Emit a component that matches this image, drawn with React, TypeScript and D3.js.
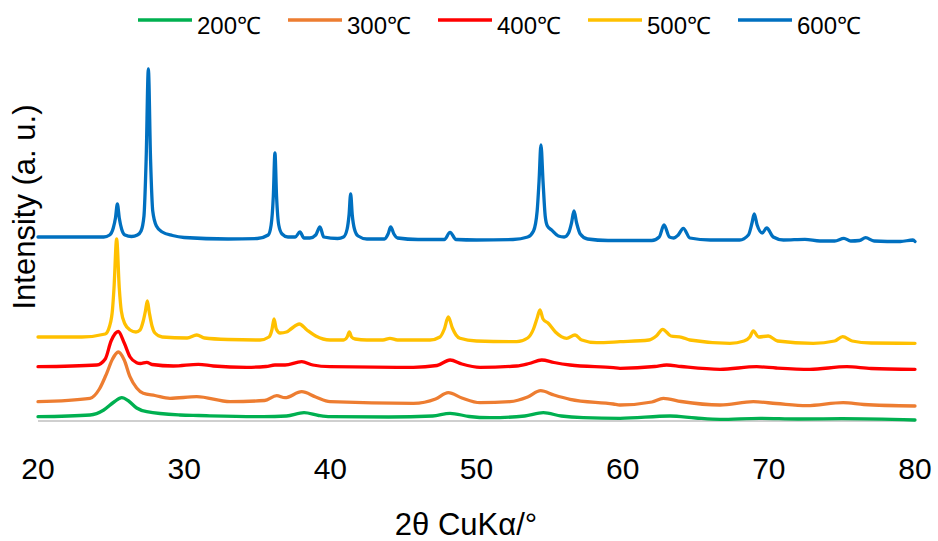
import React from "react";
import * as d3 from "d3";

const W = 938;
const H = 541;

const seriesNames = ["200℃", "300℃", "400℃", "500℃", "600℃"];
const seriesColors = ["#00B050", "#ED7D31", "#FF0000", "#FFC000", "#0070C0"];

const xTicks = [20, 30, 40, 50, 60, 70, 80];

// 2θ (deg), intensity (a.u., stacked offsets as plotted)
const s200: [number, number][] = [
  [20, 4.3], [23.56, 6], [24.5, 11], [25.2, 19], [25.73, 23.3], [26.2, 20], [26.75, 13], [27.44, 9.3],
  [29.71, 6], [31, 5.5], [35.41, 4.3], [37, 5], [38.2, 8.3], [39.2, 5.5], [39.98, 4.3], [44, 4],
  [47, 5], [48.19, 7.7], [49.5, 4.5], [50.92, 3.3], [53.3, 5], [54.57, 8.3], [55.8, 5], [57.31, 3.3],
  [59.82, 2.7], [63.24, 5], [65, 3], [66.66, 1.7], [69.39, 2.7], [72, 2], [75, 2.3], [80, 1],
];

const s300: [number, number][] = [
  [20, 19.3], [23.56, 22.7], [24.2, 32], [24.7, 47.7], [25.1, 62], [25.49, 69], [25.9, 61], [26.29, 44.3],
  [26.75, 33], [27.2, 27.7], [28, 25.5], [29.03, 22.7], [30.86, 24.3], [33.14, 19.3], [35.5, 20.5],
  [36.33, 25.3], [36.9, 23.3], [38.04, 29.3], [39, 24], [39.98, 19.3], [45.68, 17.7], [47.2, 22],
  [48.07, 28.3], [49, 23], [50.24, 18.3], [52.29, 19.3], [53.5, 24], [54.39, 30.3], [55.3, 26],
  [56.4, 21.7], [59.36, 17], [59.82, 16], [62, 19], [62.78, 22.7], [64, 19.5], [66.66, 16], [68.94, 19.3],
  [70.5, 17.5], [72.59, 15.3], [75.09, 18.3], [76.5, 16.5], [80, 15],
];

const s400: [number, number][] = [
  [20, 54.3], [24.02, 56], [24.6, 62], [25.0, 80], [25.49, 89.5], [25.9, 78], [26.3, 64], [26.75, 58.3],
  [27.0, 57.5], [27.44, 58.7], [27.8, 56.5], [29.26, 55], [30.97, 56.7], [32, 55], [34.28, 53.7],
  [35.6, 54.5], [36.21, 56], [36.9, 56], [38.04, 59.3], [38.8, 56], [39.98, 54.3], [45.68, 53.7],
  [47.3, 55.5], [48.19, 61], [49, 57], [50.24, 53.7], [52.75, 55], [53.6, 57.5], [54.46, 61], [55.3, 58.5],
  [56.4, 56], [59.36, 53.3], [59.82, 52.7], [62.2, 54.5], [63.01, 56], [64, 54.5], [66.66, 51.7],
  [69.17, 54.3], [70.5, 53], [72.81, 51.7], [75.33, 54.3], [77, 52.5], [80, 51.7],
];

const s500: [number, number][] = [
  [20, 84], [23, 84], [24.6, 87], [24.9, 95], [25.1, 112], [25.2, 133], [25.38, 182], [25.56, 133],
  [25.7, 110], [25.95, 97], [26.3, 91], [26.7, 89], [26.98, 91], [27.2, 100], [27.35, 110], [27.48, 120],
  [27.62, 108], [27.8, 95], [28.0, 88], [28.5, 84],
  [30.2, 83], [30.86, 86], [31.4, 83], [33, 81.5], [35.19, 81], [35.8, 84], [36.0, 91], [36.15, 102],
  [36.3, 92], [36.56, 88], [37, 89], [37.3, 92], [37.88, 97], [38.4, 91], [39.0, 85], [39.98, 81],
  [40.9, 81], [41.15, 84], [41.3, 89], [41.45, 84], [41.7, 82], [42.5, 81], [43.6, 81], [44.08, 82.7],
  [44.6, 81], [46.82, 81], [47.5, 84], [47.8, 92], [48.07, 104], [48.35, 93], [48.6, 86], [48.87, 82.7],
  [50, 80], [52.75, 79.3], [53.5, 83], [53.9, 92], [54.15, 103], [54.34, 111], [54.55, 102], [54.91, 97.7],
  [55.4, 89], [56.17, 82.7], [56.74, 86], [57.2, 81], [58.22, 78.3],
  [59.82, 79.3], [61.8, 81], [62.3, 85], [62.74, 91.7], [63.3, 85], [64.04, 83.7], [64.6, 81], [67.34, 77.7],
  [68.3, 80], [68.7, 84], [68.94, 90], [69.3, 84], [69.96, 85], [70.6, 80], [73.04, 77.7], [74.5, 80],
  [75.05, 84.3], [75.7, 80], [77, 78], [80, 77.7],
];

const s600: [number, number][] = [
  [20, 184], [24.5, 184], [24.9, 186], [25.15, 193], [25.3, 203], [25.43, 217], [25.56, 203], [25.72, 192],
  [25.95, 186], [26.4, 184.5], [26.8, 186], [27.05, 190], [27.25, 205], [27.4, 262], [27.55, 352],
  [27.7, 262], [27.85, 210], [28.1, 195], [28.5, 189], [29.2, 185.5],
  [30, 183.5], [33, 182], [35, 182.5], [35.75, 186], [35.95, 196], [36.1, 225], [36.21, 268], [36.32, 225],
  [36.47, 196], [36.7, 187], [37.1, 184], [37.6, 184], [37.92, 189], [38.2, 183], [38.6, 183], [39.0, 186],
  [39.29, 194], [39.55, 184],
  [40.5, 182.5], [40.9, 184], [41.15, 192], [41.28, 206], [41.39, 227], [41.5, 206], [41.65, 192],
  [41.9, 185], [42.5, 182], [43.7, 182], [43.95, 187], [44.13, 194], [44.35, 187], [44.6, 183], [46, 181.5],
  [47.8, 181.5], [48.19, 188.7], [48.6, 181.5],
  [50, 181], [52.5, 181.5], [53.5, 184], [53.9, 190], [54.15, 210], [54.28, 240], [54.41, 276],
  [54.55, 240], [54.7, 205], [54.85, 195], [55.14, 191], [55.6, 185], [56.0, 184], [56.3, 188], [56.5, 198],
  [56.67, 210], [56.85, 198], [57.1, 187], [57.6, 182], [59, 180.5], [62, 180.5], [62.5, 184], [62.83, 196],
  [63.2, 184], [63.5, 183], [63.8, 186], [64.15, 192.7], [64.6, 183], [66, 181], [68, 181], [68.6, 186],
  [68.85, 198], [69.0, 207], [69.2, 196], [69.55, 188], [69.85, 193], [70.3, 184], [71, 181],
  [72.47, 181.7], [73.5, 180], [74.5, 180],
  [75.14, 182.7], [75.6, 180], [76.2, 180.5], [76.62, 183.3], [77.2, 180], [79, 179.5], [79.86, 181],
  [80, 179.5],
];

const allSeries = [s200, s300, s400, s500, s600];

const FONT = "'Liberation Sans', Arial, sans-serif";

export default function App() {
  const x = d3.scaleLinear().domain([20, 80]).range([38, 915]);
  const y = d3.scaleLinear().domain([0, 380]).range([421, 41]);
  const line = d3
    .line<[number, number]>()
    .x((d) => x(d[0]))
    .y((d) => y(d[1]))
    .curve(d3.curveMonotoneX);

  const legendStart = 138;
  const legendStep = 150;
  const legendLine = 54;

  return (
    <div style={{ position: "fixed", left: 0, top: 0, background: "#fff" }}>
      <svg width={W} height={H} style={{ display: "block", fontFamily: FONT }}>
        <rect width={W} height={H} fill="#fff" />
        <line x1={x(20)} x2={x(80)} y1={y(0)} y2={y(0)} stroke="#BFBFBF" strokeWidth={1.5} />
        {allSeries.map((s, i) => (
          <path
            key={i}
            d={line(s) || ""}
            fill="none"
            stroke={seriesColors[i]}
            strokeWidth={3.3}
            strokeLinejoin="round"
            strokeLinecap="round"
          />
        ))}
        {xTicks.map((t) => (
          <text key={t} x={x(t)} y={479} textAnchor="middle" fontSize={30} fill="#000">
            {t}
          </text>
        ))}
        <text x={466} y={535} textAnchor="middle" fontSize={31} fill="#000">
          2θ CuKα/°
        </text>
        <text
          transform={`translate(35, 207) rotate(-90)`}
          textAnchor="middle"
          fontSize={31}
          fill="#000"
        >
          Intensity (a. u.)
        </text>
        {seriesNames.map((n, i) => {
          const lx = legendStart + i * legendStep;
          return (
            <g key={n}>
              <line x1={lx} x2={lx + legendLine} y1={20} y2={20} stroke={seriesColors[i]} strokeWidth={3.5} />
              <text x={lx + legendLine + 5} y={34} fontSize={24} fill="#000">
                {n}
              </text>
            </g>
          );
        })}
      </svg>
    </div>
  );
}
